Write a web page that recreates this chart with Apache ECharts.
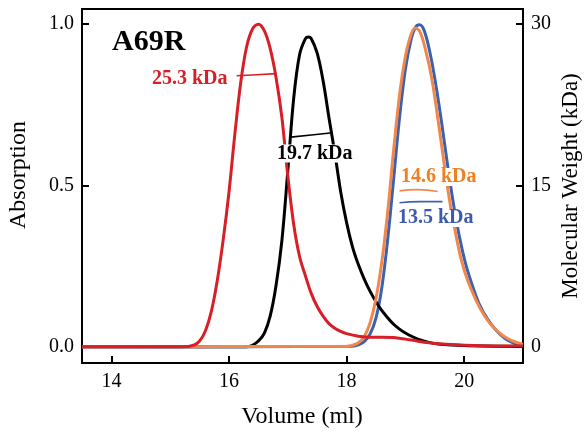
<!DOCTYPE html>
<html><head><meta charset="utf-8">
<script src="https://cdn.jsdelivr.net/npm/echarts@6/dist/echarts.min.js"></script>
<style>html,body{margin:0;padding:0;background:#fff}#c{width:586px;height:435px}</style>
</head><body><div id="c"></div>
<script>
// Absorption traces (Volume ml -> normalized absorption)
const redX = [13.5, 15.2, 15.4, 15.5, 15.6, 15.7, 15.8, 15.9, 16.0, 16.1, 16.2, 16.3, 16.4, 16.5, 16.6, 16.7, 16.8, 16.9, 17.0, 17.1, 17.2, 17.3, 17.4, 17.5, 17.6, 17.7, 17.8, 17.9, 18.0, 18.2, 18.4, 18.6, 18.8, 19.0, 19.2, 19.4, 19.7, 20.0, 20.5, 21.0];
const redY = [0, 0, 0.005, 0.018, 0.05, 0.11, 0.205, 0.33, 0.48, 0.66, 0.82, 0.93, 0.985, 1.0, 0.98, 0.925, 0.835, 0.71, 0.53, 0.38, 0.28, 0.22, 0.165, 0.125, 0.095, 0.072, 0.058, 0.048, 0.041, 0.033, 0.03, 0.03, 0.029, 0.024, 0.018, 0.013, 0.008, 0.005, 0.003, 0.003];
const blackX = [13.5, 16.3, 16.4, 16.5, 16.6, 16.7, 16.8, 16.9, 17.0, 17.1, 17.2, 17.3, 17.35, 17.4, 17.5, 17.6, 17.7, 17.8, 17.9, 18.0, 18.1, 18.2, 18.3, 18.4, 18.5, 18.6, 18.7, 18.8, 18.9, 19.0, 19.2, 19.4, 19.6, 20.0, 21.0];
const blackY = [0, 0, 0.005, 0.018, 0.042, 0.095, 0.19, 0.33, 0.545, 0.77, 0.905, 0.955, 0.96, 0.955, 0.91, 0.825, 0.71, 0.6, 0.48, 0.385, 0.31, 0.255, 0.21, 0.172, 0.14, 0.112, 0.09, 0.07, 0.055, 0.043, 0.025, 0.014, 0.008, 0.004, 0.001];
const orangeX = [13.5, 18.0, 18.1, 18.2, 18.3, 18.4, 18.5, 18.6, 18.7, 18.8, 18.9, 19.0, 19.1, 19.17, 19.25, 19.35, 19.45, 19.55, 19.65, 19.75, 19.85, 19.95, 20.05, 20.2, 20.35, 20.5, 20.65, 20.8, 21.0];
const orangeY = [0, 0.002, 0.005, 0.013, 0.032, 0.075, 0.15, 0.265, 0.42, 0.61, 0.78, 0.9, 0.97, 0.988, 0.975, 0.915, 0.83, 0.71, 0.58, 0.455, 0.355, 0.27, 0.21, 0.145, 0.095, 0.06, 0.036, 0.02, 0.008];
const blueX = [13.5, 18.1, 18.2, 18.3, 18.4, 18.5, 18.6, 18.7, 18.8, 18.9, 19.0, 19.1, 19.17, 19.24, 19.32, 19.42, 19.52, 19.62, 19.72, 19.82, 19.92, 20.02, 20.12, 20.25, 20.4, 20.55, 20.7, 20.85, 21.0];
const blueY = [0, 0.002, 0.006, 0.016, 0.04, 0.09, 0.185, 0.335, 0.52, 0.71, 0.86, 0.955, 0.99, 0.998, 0.98, 0.91, 0.81, 0.69, 0.56, 0.44, 0.34, 0.26, 0.2, 0.135, 0.085, 0.05, 0.025, 0.011, 0.004];

// Molecular weight segments (kDa)
const redMwX = [16.13, 16.47, 16.81];   const redMwY = [25.2, 25.3, 25.4];
const blackMwX = [17.05, 17.4, 17.76];  const blackMwY = [19.5, 19.7, 19.9];
const orangeMwX = [18.9, 19.2, 19.55];  const orangeMwY = [14.5, 14.62, 14.45];
const blueMwX = [18.9, 19.25, 19.63];   const blueMwY = [13.4, 13.5, 13.5];

// Tick values / labels
const xTicks = [14, 16, 18, 20];
const absTicks = [0, 0.5, 1.0];
const mwTicks = [0, 15, 30];
const mwLabels = ['25.3 kDa', '19.7 kDa', '14.6 kDa', '13.5 kDa'];

const C_RED = '#d81e27', C_BLACK = '#000000', C_ORANGE = '#f2874c', C_BLUE = '#3c62ae';
const serif = '"Liberation Serif", "Times New Roman", serif';
function pairs(xs, ys) { return xs.map((x, i) => [x, ys[i]]); }

const axisCommon = {
  axisLine: { show: true, onZero: false, lineStyle: { color: '#000', width: 2 } },
  splitLine: { show: false }
};

const chart = echarts.init(document.getElementById('c'));
function curve(name, xs, ys, color) {
  return { name, type: 'line', xAxisIndex: 0, yAxisIndex: 0, data: pairs(xs, ys), smooth: 0.35,
    showSymbol: false, symbol: 'none', lineStyle: { color, width: 3 }, silent: true };
}
function mw(name, xs, ys, color) {
  return { name, type: 'line', xAxisIndex: 0, yAxisIndex: 1, data: pairs(xs, ys), smooth: true,
    showSymbol: false, symbol: 'none', lineStyle: { color, width: 1.6 }, silent: true, z: 5 };
}
const bold = 'bold 20px ' + serif;
function label(x, y, text, fill, bg) {
  const style = { text, font: bold, fill, align: 'left', verticalAlign: 'middle' };
  if (bg) { style.backgroundColor = '#fff'; style.padding = [-1, 1, -1, 1]; }
  return { type: 'text', x, y, z: 10, style };
}
chart.setOption({
  animation: false,
  grid: { left: 82, right: 63, top: 9, bottom: 72, show: true, borderColor: '#000', borderWidth: 2 },
  xAxis: Object.assign({}, axisCommon, {
    type: 'value', min: 13.5, max: 21,
    axisTick: { show: true, inside: true, length: 7, customValues: xTicks, lineStyle: { color: '#000', width: 2 } },
    axisLabel: { customValues: xTicks, color: '#000', fontFamily: serif, fontSize: 20, margin: 9 }
  }),
  yAxis: [
    Object.assign({}, axisCommon, {
      type: 'value', min: -0.05, max: 1.047, position: 'left',
      axisTick: { show: true, inside: true, length: 7, customValues: absTicks, lineStyle: { color: '#000', width: 2 } },
      axisLabel: { customValues: absTicks, color: '#000', fontFamily: serif, fontSize: 20, margin: 8,
        formatter: v => Number(v).toFixed(1) }
    }),
    Object.assign({}, axisCommon, {
      type: 'value', min: -1.5, max: 31.41, position: 'right',
      axisTick: { show: true, inside: true, length: 7, customValues: mwTicks, lineStyle: { color: '#000', width: 2 } },
      axisLabel: { customValues: mwTicks, color: '#000', fontFamily: serif, fontSize: 20, margin: 8,
        formatter: v => String(Math.round(v)) }
    })
  ],
  series: [
    curve('blue', blueX, blueY, C_BLUE),
    curve('black', blackX, blackY, C_BLACK),
    curve('orange', orangeX, orangeY, C_ORANGE),
    curve('red', redX, redY, C_RED),
    mw('redMW', redMwX, redMwY, C_RED),
    mw('blackMW', blackMwX, blackMwY, C_BLACK),
    mw('orangeMW', orangeMwX, orangeMwY, C_ORANGE),
    mw('blueMW', blueMwX, blueMwY, C_BLUE)
  ],
  graphic: [
    { type: 'text', x: 112, y: 42, z: 10, style: { text: 'A69R', font: 'bold 30px ' + serif, fill: '#000', align: 'left', verticalAlign: 'middle' } },
    label(152, 79, mwLabels[0], C_RED, false),
    label(276, 153.5, mwLabels[1], '#000', true),
    label(400, 177, mwLabels[2], '#ef8022', true),
    label(397, 218, mwLabels[3], '#3c5ba8', true),
    { type: 'text', x: 302, y: 417, style: { text: 'Volume (ml)', font: '24px ' + serif, fill: '#000', align: 'center', verticalAlign: 'middle' } },
    { type: 'text', x: 19, y: 175, rotation: Math.PI / 2, style: { text: 'Absorption', font: '24px ' + serif, fill: '#000', align: 'center', verticalAlign: 'middle' } },
    { type: 'text', x: 571, y: 186, rotation: Math.PI / 2, style: { text: 'Molecular Weight (kDa)', font: '23px ' + serif, fill: '#000', align: 'center', verticalAlign: 'middle' } }
  ]
});
</script>
</body></html>
